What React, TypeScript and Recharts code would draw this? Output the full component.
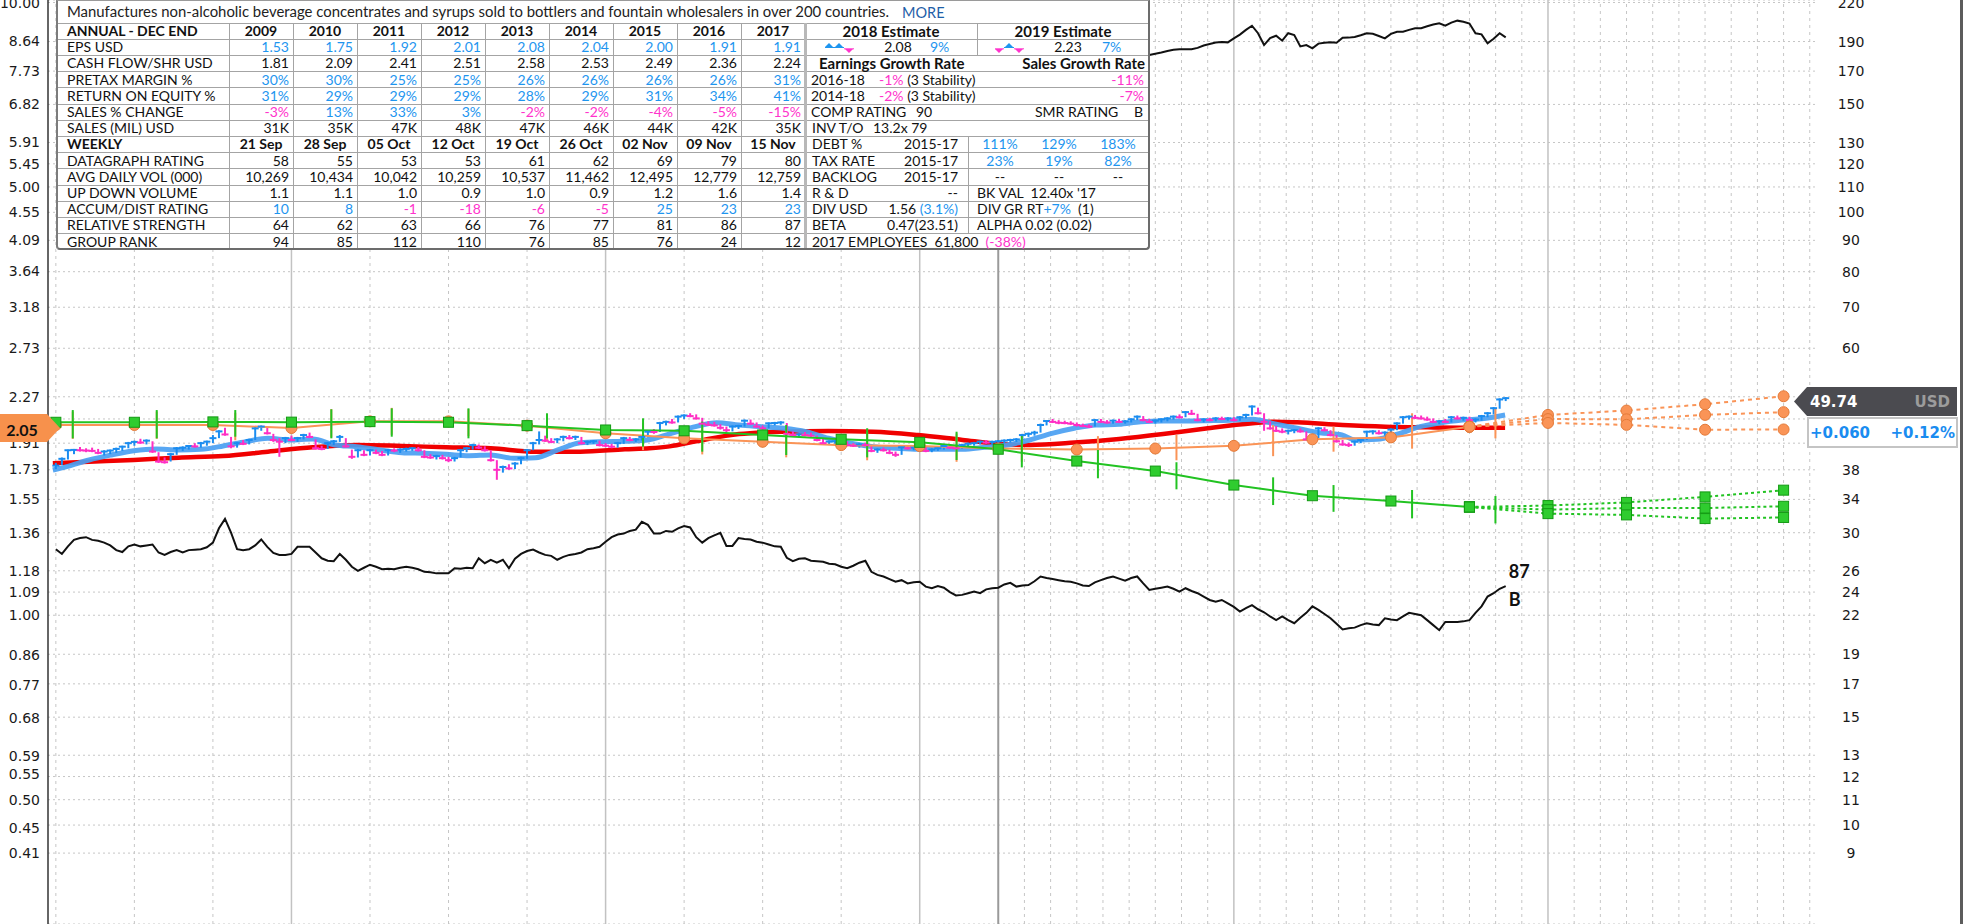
import React from "react";
import {
  ComposedChart,
  Line,
  Scatter,
  XAxis,
  YAxis,
  CartesianGrid,
  ReferenceLine,
  ReferenceDot,
  ErrorBar,
} from "recharts";

// ---------- page / plot layout
const W = 1970;
const H = 924;
const PLOT_R = 1815;
const FONT_AXIS = "'DejaVu Sans', Verdana, sans-serif";
const FONT_TABLE = "Lato, 'Open Sans', sans-serif";

const BAR_UP = "#1a8cf0";
const BAR_DOWN = "#ff2ec4";
const TXT_BLUE = "#1e95ef";
const TXT_PINK = "#ff33cc";
const GREEN = "#22c322";
const ORANGE = "#fa9457";

// ---------- axes (x in weeks, week 0 = first year line)
const weekDomain = [-40.3, 252.2];
const priceDomain = [6.895, 222.08];
const epsDomain = [0.3134, 10.094];
const priceTicks = [9, 10, 11, 12, 13, 15, 17, 19, 22, 24, 26, 30, 34, 38, 42, 46, 50, 60, 70, 80, 90, 100, 110, 120, 130, 150, 170, 190, 220];
const epsTicks = [0.41, 0.45, 0.5, 0.55, 0.59, 0.68, 0.77, 0.86, 1.0, 1.09, 1.18, 1.36, 1.55, 1.73, 1.91, 2.09, 2.27, 2.73, 3.18, 3.64, 4.09, 4.55, 5.0, 5.45, 5.91, 6.82, 7.73, 8.64, 10.0];
// labels that sit under the price / EPS tags
const hiddenPriceLabels = [46, 50];
const hiddenEpsLabels = [2.09];

const WEEKS_PER_MONTH = 52 / 12;
const quarterGridMonths = [-9, -6, -3, 3, 6, 9, 15, 18, 21];
const yearLineMonths = [0, 12, 24, 36, 48];
const splitLineMonth = 27;
const monthGridMonths = [28, 29, 30, 31, 32, 33, 34, 35, 37, 38, 39, 40, 41, 42, 43, 44, 45, 46, 47, 49, 50, 51, 52, 53, 54, 55, 56, 57, 58];

// ---------- weekly price bars [low, high, close], from week -39
const firstBarWeek = -39;
const weeklyBars = [
  [38.1,39.0,38.6],[38.7,39.8,39.6],[39.5,41.0,40.9],[40.3,41.1,40.95],[40.7,41.4,40.9],[40.6,41.2,40.85],[40.6,41.3,40.8],[40.3,41.1,40.5],[40.1,40.9,40.7],[40.3,41.0,40.85],
  [40.5,41.3,41.1],[40.8,41.6,41.45],[41.2,42.2,42.0],[41.6,42.4,42.2],[41.9,42.7,42.1],[41.8,42.6,42.4],[40.5,42.3,40.7],[39.0,40.6,39.2],[38.9,39.8,39.1],[39.2,40.5,40.3],
  [40.2,41.4,41.2],[40.8,41.5,41.3],[41.0,41.7,41.56],[41.3,42.0,41.5],[41.3,42.2,42.0],[41.6,42.4,42.24],[42.0,43.3,42.8],[42.8,44.1,43.9],[43.2,44.5,43.4],[41.2,43.0,41.5],
  [41.3,42.2,42.0],[41.7,42.5,41.9],[41.8,42.7,42.5],[42.5,44.7,44.4],[44.0,44.9,44.7],[43.4,44.6,43.6],[42.2,43.5,42.5],[39.9,42.8,42.24],[42.0,43.0,42.8],[42.3,43.2,42.5],
  [42.2,43.0,42.8],[42.6,43.5,43.3],[42.8,43.7,43.0],[41.0,42.6,41.2],[40.9,41.6,41.1],[41.1,42.2,42.0],[41.7,42.5,42.3],[42.2,43.3,43.0],[41.3,42.8,41.5],[39.6,41.0,39.9],
  [39.8,41.1,40.9],[40.0,40.9,40.2],[40.1,41.1,40.9],[40.3,41.0,40.5],[40.0,40.8,40.2],[40.1,41.1,40.9],[40.6,41.2,40.85],[40.5,41.2,41.0],[40.7,41.3,41.1],[40.8,41.4,41.2],
  [40.7,41.4,40.9],[39.7,40.9,39.9],[39.6,40.3,39.8],[39.5,40.2,40.0],[39.5,40.2,39.7],[39.1,39.9,39.4],[39.2,39.9,39.7],[39.8,41.1,40.9],[40.6,41.4,41.2],[41.0,41.9,41.7],
  [41.1,41.8,41.3],[40.7,41.5,40.9],[39.2,40.9,39.4],[36.6,39.4,38.0],[37.6,38.6,38.4],[38.0,38.8,38.2],[38.1,39.1,38.9],[38.8,39.9,39.7],[39.6,41.1,40.9],[40.9,42.2,42.0],
  [41.8,43.9,42.5],[42.2,43.2,42.4],[42.0,42.8,42.2],[42.0,42.8,42.6],[42.3,43.2,43.0],[42.6,43.3,42.8],[42.5,43.2,43.0],[41.8,43.0,42.0],[41.7,42.4,42.2],[41.9,42.5,42.3],
  [41.5,42.4,41.7],[41.4,42.0,41.6],[41.2,41.9,41.45],[41.3,42.2,42.0],[41.9,43.0,42.8],[42.3,43.0,42.5],[42.2,42.8,42.6],[42.4,43.2,43.0],[42.9,44.0,43.85],[43.5,44.3,43.8],
  [43.8,45.5,45.3],[44.9,45.7,45.5],[45.2,46.0,45.4],[45.4,46.6,46.4],[46.0,46.8,46.6],[46.3,47.0,46.5],[45.9,46.8,46.1],[45.0,46.2,45.2],[44.8,45.6,45.0],[44.7,45.5,44.9],
  [44.2,45.1,44.5],[43.8,44.7,44.1],[43.9,44.9,44.7],[44.3,45.0,44.8],[44.7,45.9,45.7],[45.0,45.9,45.2],[44.5,45.4,44.7],[44.2,44.9,44.4],[44.4,45.4,45.25],[44.9,45.5,45.3],
  [45.0,45.6,45.4],[43.3,45.3,43.5],[43.1,43.9,43.3],[42.9,43.6,43.4],[43.1,43.8,43.3],[43.0,43.7,43.2],[42.3,43.2,42.5],[41.8,42.7,42.0],[41.7,42.4,42.24],[41.9,42.5,42.3],
  [42.0,42.6,42.2],[41.5,42.3,41.7],[41.4,42.0,41.6],[41.3,42.0,41.8],[41.5,42.1,41.7],[40.6,41.6,40.8],[40.5,41.2,41.0],[40.7,41.3,40.9],[40.3,41.0,40.5],[39.9,40.7,40.2],
  [40.2,41.5,41.35],[41.0,41.6,41.2],[40.9,41.5,41.3],[41.0,41.6,41.45],[40.6,41.5,40.8],[40.6,41.2,41.0],[40.8,41.4,41.2],[41.0,41.7,41.56],[41.1,41.7,41.3],[41.0,41.6,41.2],
  [41.1,41.9,41.7],[41.5,42.1,41.9],[41.6,42.2,42.0],[41.8,42.4,42.24],[41.9,42.5,42.1],[41.8,42.4,42.2],[41.9,42.5,42.3],[42.0,42.6,42.4],[42.1,42.7,42.5],[42.2,42.8,42.6],
  [42.5,43.5,43.3],[43.0,43.7,43.5],[43.2,44.0,43.7],[43.7,45.2,44.97],[44.9,45.8,45.65],[45.3,46.0,45.5],[45.1,45.8,45.35],[45.1,45.7,45.3],[45.0,45.6,45.2],[44.7,45.4,44.97],
  [44.6,45.2,44.8],[44.5,45.1,44.7],[44.7,46.0,45.8],[45.3,46.0,45.5],[45.2,45.8,45.4],[45.2,45.9,45.7],[45.3,46.0,45.5],[45.2,45.8,45.6],[45.4,46.1,45.94],[45.8,46.6,46.4],
  [45.6,46.5,45.8],[45.3,46.0,45.5],[45.2,45.9,45.7],[45.4,46.1,45.94],[45.6,46.3,46.1],[45.9,46.6,46.4],[46.1,46.8,46.3],[46.3,47.4,47.2],[46.7,47.6,46.9],[45.6,46.9,45.8],
  [45.4,46.1,45.9],[45.6,46.2,45.8],[45.6,46.3,46.1],[45.8,46.4,46.0],[45.7,46.3,46.1],[45.6,46.3,45.8],[45.7,46.5,46.3],[46.1,46.9,46.7],[46.6,48.4,48.2],[46.8,48.0,47.0],
  [44.0,47.0,45.5],[44.2,45.6,44.4],[43.8,44.8,44.0],[43.6,44.4,43.85],[43.4,44.2,44.0],[43.6,44.3,44.1],[43.7,44.4,43.9],[42.4,43.9,42.6],[42.3,43.0,42.8],[42.8,44.6,44.4],
  [43.9,44.6,44.1],[43.1,44.1,43.3],[42.1,43.3,42.3],[41.6,42.5,41.8],[41.4,42.1,41.7],[41.6,42.4,42.24],[42.0,42.7,42.5],[42.5,44.0,43.85],[43.4,44.1,43.9],[43.4,44.1,43.6],
  [43.2,43.9,43.7],[43.6,44.4,44.2],[44.1,45.4,45.25],[45.2,46.5,46.3],[45.9,46.6,46.4],[46.0,46.7,46.2],[45.9,46.6,46.1],[45.7,46.4,45.9],[45.3,46.1,45.5],[45.1,45.8,45.6],
  [45.3,46.0,45.5],[45.4,46.5,46.3],[45.9,46.6,46.1],[45.7,46.4,46.2],[45.6,46.4,45.8],[45.4,46.1,45.9],[45.7,46.7,46.5],[46.3,47.2,47.0],[46.8,48.1,47.9],[47.8,49.7,49.5],[49.2,49.9,49.74],
];

// ---------- moving averages [week, price]
const ma50 = [
  [-39.5,37.97],[-37.2,38.46],[-33.5,39.43],[-29.8,40.18],[-26.1,40.83],[-22.4,41.09],[-18.7,40.94],[-15.0,41.04],[-11.3,41.56],[-7.6,42.24],
  [-3.9,42.78],[-0.2,42.51],[3.5,42.67],[7.2,41.72],[10.8,41.45],[14.6,40.94],[18.3,40.53],[21.9,40.43],[25.6,40.28],[29.4,40.07],
  [33.0,40.18],[36.7,39.68],[40.4,39.77],[44.1,40.94],[47.8,42.08],[51.5,42.24],[55.2,42.3],[58.9,42.51],[62.6,43.5],[66.5,44.6],
  [70.4,45.36],[74.1,44.97],[77.8,44.69],[81.5,44.42],[85.2,43.85],[88.9,42.78],[92.6,41.99],[96.3,41.45],[100.0,41.2],[103.7,41.04],
  [107.4,41.04],[111.1,41.04],[114.8,41.36],[118.5,41.72],[122.2,42.51],[125.9,43.58],[129.6,44.42],[133.2,44.97],[137.0,45.09],[140.6,45.53],
  [144.3,45.65],[148.0,45.65],[151.7,45.7],[155.4,45.77],[159.1,45.94],[162.8,45.15],[166.5,44.42],[170.2,43.69],[173.9,43.31],[176.1,42.51],
  [179.7,42.62],[183.2,43.47],[186.8,44.69],[190.3,45.36],[193.8,45.8],[197.4,46.09],[200.9,46.69],
];
const ma200 = [
  [-39.5,38.94],[-33.5,39.17],[-26.1,39.43],[-18.7,39.77],[-11.3,40.02],[-3.9,40.68],[3.5,41.36],[10.8,41.72],[18.3,41.56],[25.6,41.36],
  [33.0,41.2],[40.4,40.68],[47.8,40.68],[55.2,41.04],[59.3,41.2],[62.6,41.5],[67.0,42.3],[74.1,43.47],[81.5,43.85],[88.9,43.96],
  [96.3,43.85],[103.7,43.31],[111.1,42.51],[117.2,41.88],[122.2,41.72],[129.6,42.09],[137.0,42.67],[144.3,43.47],[151.7,44.42],[159.1,45.25],
  [162.8,45.53],[166.5,45.42],[174.0,44.97],[181.1,44.69],[188.1,44.58],[195.2,44.52],[200.9,44.52],
];

// ---------- relative strength line (weekly, from week -39)
const rsLine = [
  28.2,27.7,28.5,29.2,29.4,29.5,29.2,29.1,28.9,28.6,
  28.1,27.9,28.5,28.7,28.5,28.6,28.7,27.85,27.6,27.9,
  28.1,27.85,28.1,28.15,28.2,28.4,28.9,30.5,31.6,30.0,
  28.2,28.1,28.2,28.6,29.25,28.45,27.8,27.6,27.6,27.7,
  28.45,28.45,28.45,27.85,27.25,27.0,26.95,27.7,27.1,26.4,
  26.0,26.3,26.6,26.4,26.15,26.2,26.15,26.3,26.4,26.3,
  26.15,25.9,25.85,25.75,25.75,25.75,26.25,26.2,26.3,26.25,
  27.25,26.75,27.08,26.8,27.1,26.25,27.2,27.7,28.0,28.15,
  27.85,27.6,27.5,27.1,27.4,27.6,27.7,27.85,28.2,28.3,
  28.45,29.0,29.5,29.8,29.9,30.2,30.35,31.25,30.9,29.9,
  29.9,30.2,30.1,30.5,30.75,30.6,29.5,28.9,29.4,29.7,
  30.0,28.55,28.55,29.4,29.3,29.25,29.0,28.9,28.7,28.5,
  28.45,27.3,26.95,27.2,27.25,27.0,26.95,26.9,26.7,26.65,
  26.4,26.25,26.5,26.8,27.0,25.9,25.6,25.45,25.2,24.95,
  25.1,24.8,24.9,24.95,24.5,24.35,24.55,24.4,24.0,23.7,
  23.75,23.9,24.05,23.9,24.25,24.35,24.4,24.7,24.85,24.5,
  24.6,24.65,25.0,25.45,25.3,25.2,25.1,25.0,24.95,24.8,
  24.6,24.55,24.9,25.1,25.3,25.45,25.25,25.05,25.3,25.45,
  24.8,24.2,24.3,24.4,24.5,24.3,24.05,24.35,24.1,23.9,
  23.6,23.3,23.15,23.3,23.0,22.7,22.3,22.6,22.85,22.5,
  22.25,21.9,21.6,21.9,21.6,21.35,21.8,22.2,22.75,22.45,
  22.1,21.75,21.3,20.85,20.95,21.0,21.2,21.35,21.25,21.2,
  21.75,21.65,21.6,21.9,22.2,22.1,22.0,21.6,21.2,20.8,
  21.45,21.45,21.45,21.5,21.6,22.2,22.75,23.6,23.9,24.3,24.55,
];
const rsRating = "87";
const adGrade = "B";

// ---------- upper line (visible part right of the data table), from week 142
const upperLineStart = 142;
const upperLine = [
  180.6,181.5,182.3,183.4,184.2,184.6,184.6,184.5,185.5,187.2,
  188.2,189.3,189.7,189.4,192.3,195.0,198.5,201.6,196.0,187.5,
  192.5,194.2,190.6,196.0,194.7,186.5,187.5,185.2,188.5,189.2,
  189.4,189.1,192.7,192.8,193.2,194.5,196.0,195.6,194.0,192.3,
  195.5,197.1,197.1,198.5,199.7,199.8,201.2,202.5,203.5,201.6,
  204.0,205.5,204.7,203.3,196.0,195.2,188.7,192.0,196.0,193.0,
];

// ---------- quarterly EPS (green) and second fundamental line (orange)
const quarterWeeks = [-39, -26, -13, 0, 13, 26, 39, 52, 65, 78, 91, 104, 117, 130, 143, 156, 169, 182, 195];
const epsQuarterly = [2.065, 2.065, 2.068, 2.066, 2.07, 2.065, 2.039, 2.006, 2.0, 1.969, 1.937, 1.915, 1.866, 1.785, 1.719, 1.631, 1.567, 1.536, 1.502];
const salesQuarterly = [2.044, 2.044, 2.044, 2.021, 2.072, 2.072, 2.039, 1.981, 1.944, 1.919, 1.895, 1.888, 1.871, 1.864, 1.871, 1.89, 1.937, 1.951, 2.031];

const estimateWeeks = [195, 208, 221, 234, 247];
const epsEstHigh = [1.502, 1.51, 1.528, 1.56, 1.6];
const epsEstMid = [1.502, 1.487, 1.496, 1.496, 1.506];
const epsEstLow = [1.502, 1.465, 1.458, 1.438, 1.444];
const salesEstHigh = [2.031, 2.123, 2.158, 2.21, 2.277];
const salesEstMid = [2.031, 2.09, 2.088, 2.123, 2.145];
const salesEstLow = [2.031, 2.06, 2.045, 2.008, 2.01];

// report-date ticks [week, low, high]
const epsReportTicks = [
  [-36.2,1.944,2.162],[-22.3,1.944,2.162],[-9.3,1.956,2.162],[6.6,1.944,2.168],[16.6,1.956,2.176],[29.3,1.944,2.176],[42.3,1.944,2.136],
  [58.2,1.884,2.096],[68.0,1.849,2.07],[81.9,1.826,2.044],[95.3,1.81,2.019],[110.1,1.792,1.993],[120.9,1.743,1.961],[133.5,1.673,1.861],
  [146.5,1.605,1.777],[162.5,1.513,1.679],[172.5,1.475,1.631],[185.5,1.439,1.601],[199.3,1.412,1.565],
];
const salesReportTicks = [
  [-36.2,1.94,2.15],[-22.3,1.94,2.15],[-9.3,1.93,2.14],[6.6,1.95,2.17],[16.6,1.97,2.18],[29.3,1.96,2.17],[42.3,1.92,2.13],
  [58.2,1.86,2.06],[68.0,1.83,2.03],[81.9,1.81,2.01],[95.3,1.79,1.99],[110.1,1.78,1.98],[120.9,1.78,1.97],[133.5,1.79,1.96],
  [146.5,1.79,1.97],[162.5,1.818,2.044],[172.5,1.849,2.031],[185.5,1.87,2.136],[199.3,1.944,2.18],
];

// ---------- data table
const years = ["2009", "2010", "2011", "2012", "2013", "2014", "2015", "2016", "2017"];
const epsAnnual = ["1.53", "1.75", "1.92", "2.01", "2.08", "2.04", "2.00", "1.91", "1.91"];
const cashFlow = ["1.81", "2.09", "2.41", "2.51", "2.58", "2.53", "2.49", "2.36", "2.24"];
const pretaxMargin = ["30%", "30%", "25%", "25%", "26%", "26%", "26%", "26%", "31%"];
const returnOnEquity = ["31%", "29%", "29%", "29%", "28%", "29%", "31%", "34%", "41%"];
const salesChange = ["-3%", "13%", "33%", "3%", "-2%", "-2%", "-4%", "-5%", "-15%"];
const salesMil = ["31K", "35K", "47K", "48K", "47K", "46K", "44K", "42K", "35K"];
const weeks = ["21 Sep", "28 Sep", "05 Oct", "12 Oct", "19 Oct", "26 Oct", "02 Nov", "09 Nov", "15 Nov"];
const datagraphRating = ["58", "55", "53", "53", "61", "62", "69", "79", "80"];
const avgDailyVol = ["10,269", "10,434", "10,042", "10,259", "10,537", "11,462", "12,495", "12,779", "12,759"];
const upDownVolume = ["1.1", "1.1", "1.0", "0.9", "1.0", "0.9", "1.2", "1.6", "1.4"];
const accumDist = ["10", "8", "-1", "-18", "-6", "-5", "25", "23", "23"];
const relStrength = ["64", "62", "63", "66", "76", "77", "81", "86", "87"];
const groupRank = ["94", "85", "112", "110", "76", "85", "76", "24", "12"];
const debtPct = ["111%", "129%", "183%"];
const taxRate = ["23%", "19%", "82%"];
const backlog = ["--", "--", "--"];

// ---------- derived rows for the chart
const bars = weeklyBars.map(([lo, hi, c], i) => ({
  w: firstBarWeek + i,
  v: c,
  err: [c - lo, hi - c],
  up: i === 0 || c >= weeklyBars[i - 1][2],
}));
const upBars = bars.filter((b) => b.up);
const downBars = bars.filter((b) => !b.up);
const pairs = (arr: number[][]) => arr.map(([w, v]) => ({ w, v }));
const series = (ws: number[], vs: number[]) => ws.map((w, i) => ({ w, v: vs[i] }));
const rsData = rsLine.map((v, i) => ({ w: firstBarWeek + i, v }));
const upperData = upperLine.map((v, i) => ({ w: upperLineStart + i, v }));
const tickRows = (arr: number[][]) =>
  arr.map(([w, lo, hi]) => {
    const mid = (lo + hi) / 2;
    return { w, v: mid, err: [mid - lo, hi - mid] };
  });

const EpsTick = (p: any) =>
  hiddenEpsLabels.includes(p.payload.value) ? (
    <g />
  ) : (
    <text x={40} y={p.y} textAnchor="end" dominantBaseline="central" fontSize={14} fontFamily={FONT_AXIS} fill="#1a1a1a">
      {Number(p.payload.value).toFixed(2)}
    </text>
  );
const PriceTick = (p: any) =>
  hiddenPriceLabels.includes(p.payload.value) ? (
    <g />
  ) : (
    <text x={PLOT_R + 36} y={p.y} textAnchor="middle" dominantBaseline="central" fontSize={14} fontFamily={FONT_AXIS} fill="#1a1a1a">
      {p.payload.value}
    </text>
  );
const closeTick = (color: string) => (p: any) =>
  <line x1={p.cx - 3.5} x2={p.cx + 3.5} y1={p.cy} y2={p.cy} stroke={color} strokeWidth={2} />;
const noShape = () => <g />;
const squareDot = (p: any) =>
  <rect key={p.index} x={p.cx - 5} y={p.cy - 5} width={10} height={10} fill="#2fcc2f" stroke="#139a13" strokeWidth={1} />;
const circleDot = (p: any) =>
  <circle key={p.index} cx={p.cx} cy={p.cy} r={5.5} fill={ORANGE} stroke="#e47a38" strokeWidth={1} />;

// ---------- table helpers
const T_LEFT = 56;
const T_RIGHT = 1150;
const DESC_H = 23;
const ROW_H = 16.2;
const LABEL_R = 229;
const COL_W = 64;
const SPLIT = 805;
const rowTop = (k: number) => DESC_H + k * ROW_H;

function Txt({ x, k, align = "left", bold = false, color = "#111", size, children, top }: any) {
  const w = 300;
  const left = align === "left" ? x : align === "right" ? x - w : x - w / 2;
  return (
    <div
      style={{
        position: "absolute",
        left,
        top: top ?? rowTop(k),
        width: w,
        height: ROW_H,
        lineHeight: `${ROW_H}px`,
        textAlign: align,
        fontWeight: bold ? 700 : 400,
        fontSize: size ?? 14,
        color,
        whiteSpace: "pre",
      }}
    >
      {children}
    </div>
  );
}

function Marks({ x, k, kinds }: { x: number; k: number; kinds: string[] }) {
  return (
    <svg style={{ position: "absolute", left: x, top: rowTop(k) }} width={32} height={16}>
      {kinds.map((kind, i) => {
        const x0 = i * 10;
        return kind === "up" ? (
          <g key={i}>
            <polygon points={`${x0},8 ${x0 + 8},8 ${x0 + 4},4`} fill={TXT_BLUE} />
            <line x1={x0 - 1} x2={x0 + 9} y1={8.5} y2={8.5} stroke={TXT_BLUE} strokeWidth={1} />
          </g>
        ) : (
          <g key={i}>
            <polygon points={`${x0},10 ${x0 + 8},10 ${x0 + 4},14`} fill={TXT_PINK} />
            <line x1={x0 - 1} x2={x0 + 9} y1={9.8} y2={9.8} stroke={TXT_PINK} strokeWidth={1} />
          </g>
        );
      })}
    </svg>
  );
}

const signColor = (s: string) => (s.startsWith("-") ? TXT_PINK : TXT_BLUE);

function DataTable() {
  const leftRows: { label: string; vals: string[]; color: (s: string) => string; bold?: boolean }[] = [
    { label: "ANNUAL - DEC END", vals: years, color: () => "#111", bold: true },
    { label: "EPS USD", vals: epsAnnual, color: () => TXT_BLUE },
    { label: "CASH FLOW/SHR USD", vals: cashFlow, color: () => "#111" },
    { label: "PRETAX MARGIN %", vals: pretaxMargin, color: () => TXT_BLUE },
    { label: "RETURN ON EQUITY %", vals: returnOnEquity, color: () => TXT_BLUE },
    { label: "SALES % CHANGE", vals: salesChange, color: signColor },
    { label: "SALES (MIL) USD", vals: salesMil, color: () => "#111" },
    { label: "WEEKLY", vals: weeks, color: () => "#111", bold: true },
    { label: "DATAGRAPH RATING", vals: datagraphRating, color: () => "#111" },
    { label: "AVG DAILY VOL (000)", vals: avgDailyVol, color: () => "#111" },
    { label: "UP DOWN VOLUME", vals: upDownVolume, color: () => "#111" },
    { label: "ACCUM/DIST RATING", vals: accumDist, color: signColor },
    { label: "RELATIVE STRENGTH", vals: relStrength, color: () => "#111" },
    { label: "GROUP RANK", vals: groupRank, color: () => "#111" },
  ];
  const bottom = rowTop(14);
  const lineC = "#a4a4a4";
  const hLines = Array.from({ length: 14 }, (_, k) => rowTop(k));
  const vLines = Array.from({ length: 9 }, (_, i) => LABEL_R + i * COL_W);
  const sub = [1000, 1059, 1118];

  return (
    <div style={{ position: "absolute", left: 0, top: 0, width: W, height: 260, fontFamily: FONT_TABLE, fontSize: 14, pointerEvents: "none" }}>
      <div style={{ position: "absolute", left: T_LEFT, top: 0, width: T_RIGHT - T_LEFT, height: bottom, background: "#fff" }} />
      {hLines.map((y, i) => (
        <div key={`h${i}`} style={{ position: "absolute", left: T_LEFT, top: y - 0.5, width: T_RIGHT - T_LEFT, height: 1, background: lineC }} />
      ))}
      {vLines.map((x, i) => (
        <div key={`v${i}`} style={{ position: "absolute", left: x - 0.5, top: DESC_H, width: 1, height: bottom - DESC_H, background: lineC }} />
      ))}
      <div style={{ position: "absolute", left: SPLIT - 1.5, top: DESC_H, width: 3, height: bottom - DESC_H, background: "#b8b8b8" }} />
      <div style={{ position: "absolute", left: 976.5, top: DESC_H, width: 1, height: ROW_H * 2, background: lineC }} />
      <div style={{ position: "absolute", left: 967.5, top: rowTop(7), width: 1, height: ROW_H * 6, background: lineC }} />
      <div
        style={{
          position: "absolute",
          left: T_LEFT,
          top: 0,
          width: T_RIGHT - T_LEFT,
          height: bottom,
          boxSizing: "border-box",
          borderLeft: "2px solid #7c7c7c",
          borderRight: "2px solid #6c6c6c",
          borderBottom: "2px solid #6c6c6c",
          borderTop: "1px solid #9a9a9a",
          borderRadius: "0 0 4px 4px",
        }}
      />

      <Txt x={67} top={3} color="#222" size={14.9}>
        Manufactures non-alcoholic beverage concentrates and syrups sold to bottlers and fountain wholesalers in over 200 countries.
      </Txt>
      <Txt x={902} top={5} color="#1f5fa8" size={14.5}>MORE</Txt>

      {leftRows.map((r, k) => (
        <React.Fragment key={r.label}>
          <Txt x={67} k={k} bold={r.bold}>{r.label}</Txt>
          {r.vals.map((v, i) =>
            r.bold ? (
              <Txt key={i} x={LABEL_R + i * COL_W + COL_W / 2} k={k} align="center" bold>{v}</Txt>
            ) : (
              <Txt key={i} x={LABEL_R + (i + 1) * COL_W - 4} k={k} align="right" color={r.color(v)}>{v}</Txt>
            )
          )}
        </React.Fragment>
      ))}

      <Txt x={891} k={0} align="center" bold size={15}>2018 Estimate</Txt>
      <Txt x={1063} k={0} align="center" bold size={15}>2019 Estimate</Txt>
      <Marks x={825} k={1} kinds={["up", "up", "down"]} />
      <Txt x={898} k={1} align="center">2.08</Txt>
      <Txt x={930} k={1} color={TXT_BLUE}>9%</Txt>
      <Marks x={995} k={1} kinds={["down", "up", "down"]} />
      <Txt x={1068} k={1} align="center">2.23</Txt>
      <Txt x={1102} k={1} color={TXT_BLUE}>7%</Txt>

      <Txt x={819} k={2} bold size={15}>Earnings Growth Rate</Txt>
      <Txt x={1145} k={2} align="right" bold size={15}>Sales Growth Rate</Txt>
      <Txt x={811} k={3}>2016-18</Txt>
      <Txt x={879} k={3}><span style={{ color: TXT_PINK }}>-1%</span> (3 Stability)</Txt>
      <Txt x={1144} k={3} align="right" color={TXT_PINK}>-11%</Txt>
      <Txt x={811} k={4}>2014-18</Txt>
      <Txt x={879} k={4}><span style={{ color: TXT_PINK }}>-2%</span> (3 Stability)</Txt>
      <Txt x={1144} k={4} align="right" color={TXT_PINK}>-7%</Txt>
      <Txt x={811} k={5}>COMP RATING</Txt>
      <Txt x={916} k={5}>90</Txt>
      <Txt x={1035} k={5}>SMR RATING</Txt>
      <Txt x={1143} k={5} align="right">B</Txt>
      <Txt x={812} k={6}>INV T/O</Txt>
      <Txt x={873} k={6}>13.2x 79</Txt>

      {[
        ["DEBT %", debtPct],
        ["TAX RATE", taxRate],
        ["BACKLOG", backlog],
      ].map(([label, vals]: any, j) => (
        <React.Fragment key={label}>
          <Txt x={812} k={7 + j}>{label}</Txt>
          <Txt x={958} k={7 + j} align="right">2015-17</Txt>
          {vals.map((v: string, i: number) => (
            <Txt key={i} x={sub[i]} k={7 + j} align="center" color={j < 2 ? TXT_BLUE : "#111"}>{v}</Txt>
          ))}
        </React.Fragment>
      ))}
      <Txt x={812} k={10}>R & D</Txt>
      <Txt x={958} k={10} align="right">--</Txt>
      <Txt x={977} k={10}>BK VAL  12.40x '17</Txt>
      <Txt x={812} k={11}>DIV USD</Txt>
      <Txt x={958} k={11} align="right">1.56 <span style={{ color: TXT_BLUE }}>(3.1%)</span></Txt>
      <Txt x={977} k={11}>DIV GR RT<span style={{ color: TXT_BLUE }}>+7%</span>  (1)</Txt>
      <Txt x={812} k={12}>BETA</Txt>
      <Txt x={958} k={12} align="right">0.47(23.51)</Txt>
      <Txt x={977} k={12}>ALPHA 0.02 (0.02)</Txt>
      <Txt x={812} k={13}>2017 EMPLOYEES  61,800  <span style={{ color: TXT_PINK }}>(-38%)</span></Txt>
    </div>
  );
}

function Overlays() {
  return (
    <svg width={W} height={H} style={{ position: "absolute", left: 0, top: 0, pointerEvents: "none" }}>
      <polygon points="0,414 47,414 60,428 47,442 0,442" fill="#f7914c" />
      <text x={22} y={429} textAnchor="middle" dominantBaseline="central" fontFamily={FONT_TABLE} fontWeight={700} fontSize={16} fill="#111">2.05</text>

      <polygon points="1794,401.5 1807,387 1957,387 1957,416 1807,416" fill="#4b4b50" />
      <text x={1810} y={402} dominantBaseline="central" fontFamily={FONT_AXIS} fontWeight={700} fontSize={15} fill="#fff">49.74</text>
      <text x={1950} y={402} textAnchor="end" dominantBaseline="central" fontFamily={FONT_AXIS} fontWeight={700} fontSize={15} fill="#9c9c9c">USD</text>
      <rect x={1808} y={418} width={149} height={29} fill="#fff" stroke="#c4c4c4" strokeWidth={2} />
      <text x={1810} y={433} dominantBaseline="central" fontFamily={FONT_AXIS} fontWeight={700} fontSize={15} fill={BAR_UP}>+0.060</text>
      <text x={1955} y={433} textAnchor="end" dominantBaseline="central" fontFamily={FONT_AXIS} fontWeight={700} fontSize={15} fill={BAR_UP}>+0.12%</text>

      <rect x={1960} y={0} width={3} height={H} fill="#5c5c5c" />
    </svg>
  );
}

export default function App() {
  const dotted = "#c6c6c6";
  return (
    <div style={{ position: "absolute", left: 0, top: 0, width: W, height: H, overflow: "hidden", background: "#fff" }}>
      <ComposedChart width={W} height={H} margin={{ top: 0, right: 0, bottom: 0, left: 0 }}>
        <XAxis type="number" dataKey="w" domain={weekDomain} allowDataOverflow hide />
        <YAxis
          yAxisId="eps"
          orientation="left"
          scale="log"
          domain={epsDomain}
          allowDataOverflow
          ticks={epsTicks}
          width={48}
          axisLine={{ stroke: "#333", strokeWidth: 1.5 }}
          tickLine={false}
          tick={EpsTick}
          interval={0}
        />
        <YAxis
          yAxisId="price"
          orientation="right"
          scale="log"
          domain={priceDomain}
          allowDataOverflow
          ticks={priceTicks}
          width={W - PLOT_R}
          axisLine={false}
          tickLine={false}
          tick={PriceTick}
          interval={0}
        />
        <CartesianGrid yAxisId="price" vertical={false} stroke={dotted} strokeDasharray="2 3" />

        {quarterGridMonths.map((m) => (
          <ReferenceLine key={`q${m}`} x={m * WEEKS_PER_MONTH} yAxisId="price" stroke={dotted} strokeDasharray="3 4" />
        ))}
        {monthGridMonths.map((m) => (
          <ReferenceLine key={`m${m}`} x={m * WEEKS_PER_MONTH} yAxisId="price" stroke={dotted} strokeDasharray="3 4" />
        ))}
        {yearLineMonths.map((m) => (
          <ReferenceLine key={`y${m}`} x={m * WEEKS_PER_MONTH} yAxisId="price" stroke="#c2c2c2" strokeWidth={1.5} />
        ))}
        <ReferenceLine x={splitLineMonth * WEEKS_PER_MONTH} yAxisId="price" stroke="#9a9a9a" strokeWidth={2} />

        <Line data={upperData} dataKey="v" yAxisId="price" type="linear" stroke="#111" strokeWidth={2} dot={false} isAnimationActive={false} />
        <Line data={rsData} dataKey="v" yAxisId="price" type="linear" stroke="#111" strokeWidth={2} dot={false} isAnimationActive={false} />
        <ReferenceDot
          x={rsData[rsData.length - 1].w}
          y={rsData[rsData.length - 1].v}
          yAxisId="price"
          r={0}
          ifOverflow="visible"
          shape={(p: any) => (
            <g fontFamily={FONT_TABLE} fontWeight={700} fontSize={18} fill="#111">
              <text x={p.cx + 3} y={p.cy - 8}>{rsRating}</text>
              <text x={p.cx + 3} y={p.cy + 20}>{adGrade}</text>
            </g>
          )}
        />

        <Line data={pairs(ma200)} dataKey="v" yAxisId="price" type="monotone" stroke="#f00000" strokeWidth={4.5} dot={false} isAnimationActive={false} />
        <Line data={pairs(ma50)} dataKey="v" yAxisId="price" type="monotone" stroke="#4aa0f2" strokeWidth={5} strokeOpacity={0.92} dot={false} isAnimationActive={false} />

        <Scatter data={upBars} dataKey="v" yAxisId="price" shape={closeTick(BAR_UP)} isAnimationActive={false}>
          <ErrorBar dataKey="err" direction="y" width={0} stroke={BAR_UP} strokeWidth={2} isAnimationActive={false} />
        </Scatter>
        <Scatter data={downBars} dataKey="v" yAxisId="price" shape={closeTick(BAR_DOWN)} isAnimationActive={false}>
          <ErrorBar dataKey="err" direction="y" width={0} stroke={BAR_DOWN} strokeWidth={2} isAnimationActive={false} />
        </Scatter>

        <Scatter data={tickRows(salesReportTicks)} dataKey="v" yAxisId="eps" shape={noShape} isAnimationActive={false}>
          <ErrorBar dataKey="err" direction="y" width={0} stroke={ORANGE} strokeWidth={2} isAnimationActive={false} />
        </Scatter>
        <Line data={series(quarterWeeks, salesQuarterly)} dataKey="v" yAxisId="eps" type="linear" stroke={ORANGE} strokeWidth={2} dot={circleDot} isAnimationActive={false} />
        {[salesEstHigh, salesEstMid, salesEstLow].map((vals, i) => (
          <Line key={`se${i}`} data={series(estimateWeeks, vals)} dataKey="v" yAxisId="eps" type="linear" stroke={ORANGE} strokeWidth={2} strokeDasharray="4 4" dot={circleDot} isAnimationActive={false} />
        ))}

        <Scatter data={tickRows(epsReportTicks)} dataKey="v" yAxisId="eps" shape={noShape} isAnimationActive={false}>
          <ErrorBar dataKey="err" direction="y" width={0} stroke={GREEN} strokeWidth={2} isAnimationActive={false} />
        </Scatter>
        <Line data={series(quarterWeeks, epsQuarterly)} dataKey="v" yAxisId="eps" type="linear" stroke={GREEN} strokeWidth={2} dot={squareDot} isAnimationActive={false} />
        {[epsEstHigh, epsEstMid, epsEstLow].map((vals, i) => (
          <Line key={`ee${i}`} data={series(estimateWeeks, vals)} dataKey="v" yAxisId="eps" type="linear" stroke={GREEN} strokeWidth={2} strokeDasharray="3 3" dot={squareDot} isAnimationActive={false} />
        ))}
      </ComposedChart>
      <Overlays />
      <DataTable />
    </div>
  );
}
